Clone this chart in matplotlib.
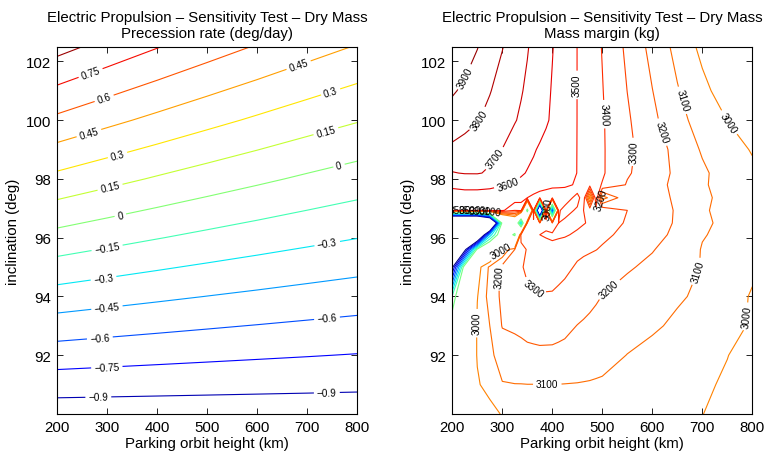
import numpy as np
import matplotlib.pyplot as plt
from matplotlib.colors import Normalize

plt.rcParams['font.family'] = ['Liberation Sans', 'DejaVu Sans']
plt.rcParams['axes.unicode_minus'] = True

TITLE = 'Electric Propulsion \u2013 Sensitivity Test \u2013 Dry Mass'

# ---- precession rate (deg/day) on a height x inclination grid ----
heights_prec = [200, 300, 400, 500, 600, 700, 800]
incl_prec = [90, 92, 94, 96, 98, 100, 102.5]
prec_rate = [
    [-0.986, -0.986, -0.986, -0.986, -0.986, -0.986, -0.986],
    [-0.674, -0.690, -0.705, -0.719, -0.732, -0.744, -0.756],
    [-0.362, -0.394, -0.424, -0.452, -0.478, -0.503, -0.526],
    [-0.051, -0.099, -0.144, -0.186, -0.225, -0.262, -0.297],
    [0.259, 0.195, 0.135, 0.079, 0.027, -0.023, -0.069],
    [0.567, 0.487, 0.413, 0.343, 0.278, 0.216, 0.159],
    [0.950, 0.850, 0.757, 0.670, 0.589, 0.512, 0.441],
]
prec_levels = [-0.9, -0.75, -0.6, -0.45, -0.3, -0.15, 0, 0.15, 0.3, 0.45, 0.6, 0.75, 0.9]
prec_label_pos = [(265, 101.68), (292, 100.83), (262, 99.63), (682, 101.9),
                  (319, 98.9), (745, 101.05), (305, 97.75), (735, 99.75),
                  (325, 96.85), (762, 98.55), (299, 95.71), (292, 94.68),
                  (739, 95.88), (299, 93.66), (285, 92.61), (739, 93.32),
                  (299, 91.61), (282, 90.59), (739, 90.76)]

# ---- mass margin (kg) ----
heights_mass = [200, 225, 250, 275, 300, 325, 337.5, 350, 362.5, 375, 387.5, 400,
                412.5, 425, 450, 462.5, 475, 487.5, 500, 550, 600, 650, 700, 750, 800]
incl_mass = [90, 91, 92, 93, 94, 95, 95.6, 96.1, 96.5, 96.93, 97.36, 97.8, 98.2,
             99, 100, 101, 102.5]
mass_margin = [
    [2600, 2720, 2850, 2950, 3010, 3030, 3038, 3045, 3052, 3060, 3065, 3070, 3074, 3078, 3080, 3079, 3078, 3076, 3075, 3065, 3050, 3030, 3002, 2960, 2920],
    [2650, 2800, 2985, 3050, 3095, 3098, 3098, 3099, 3099, 3099, 3099, 3099, 3099, 3098, 3096, 3094, 3092, 3089, 3086, 3075, 3058, 3038, 3014, 2988, 2950],
    [2400, 2800, 3010, 3080, 3140, 3160, 3170, 3180, 3180, 3180, 3179, 3178, 3175, 3172, 3160, 3155, 3150, 3142, 3135, 3098, 3075, 3055, 3030, 3002, 2965],
    [2050, 2600, 3020, 3100, 3205, 3215, 3220, 3225, 3232, 3240, 3240, 3240, 3231, 3222, 3198, 3189, 3180, 3172, 3165, 3140, 3112, 3085, 3060, 3030, 2990],
    [1550, 2500, 2995, 3140, 3220, 3270, 3280, 3290, 3292, 3295, 3292, 3290, 3280, 3270, 3250, 3238, 3225, 3211, 3198, 3165, 3140, 3110, 3085, 3050, 2990],
    [-400, 2100, 2950, 3120, 3230, 3280, 3295, 3310, 3325, 3340, 3342, 3345, 3332, 3320, 3290, 3278, 3265, 3255, 3245, 3210, 3180, 3140, 3095, 3060, 3020],
    [-2000, -500, 1900, 2700, 2995, 3200, 3255, 3310, 3335, 3360, 3365, 3370, 3360, 3350, 3320, 3315, 3310, 3302, 3290, 3245, 3205, 3160, 3095, 3065, 3030],
    [-5000, -5000, -2000, 1000, 2300, 1700, 3350, 3370, 3390, 3400, 3410, 3420, 3415, 3410, 3385, 3370, 3355, 3338, 3320, 3275, 3230, 3180, 3105, 3080, 3045],
    [-5000, -5000, -5000, -3000, 2000, 2600, 1000, 3300, 3380, 3300, 3380, 3300, 3400, 3430, 3420, 3405, 3390, 3370, 3350, 3290, 3240, 3190, 3115, 3080, 3050],
    [3520, 3522, 3525, 3530, 3520, 3400, 3450, 1600, 3450, -3000, 3450, 200, 3420, 3350, 3420, 3400, 3380, 3370, 3380, 3300, 3250, 3190, 3110, 3075, 3045],
    [3565, 3572, 3578, 3582, 3580, 3560, 3530, 3500, 3480, 3460, 3450, 3440, 3460, 3480, 3350, 3480, 2950, 3480, 3050, 3290, 3250, 3180, 3120, 3070, 3040],
    [3614, 3618, 3614, 3608, 3602, 3592, 3578, 3565, 3552, 3540, 3530, 3520, 3512, 3505, 3497, 3472, 3448, 3422, 3395, 3292, 3245, 3170, 3112, 3062, 3030],
    [3695, 3705, 3706, 3690, 3660, 3625, 3610, 3595, 3582, 3570, 3558, 3545, 3534, 3522, 3499, 3478, 3456, 3434, 3411, 3310, 3250, 3180, 3116, 3058, 3014],
    [3783, 3765, 3745, 3722, 3699, 3662, 3644, 3625, 3608, 3590, 3575, 3560, 3545, 3530, 3499, 3477, 3455, 3432, 3410, 3320, 3250, 3170, 3090, 3030, 2995],
    [3850, 3830, 3806, 3772, 3736, 3705, 3688, 3672, 3652, 3632, 3610, 3588, 3566, 3545, 3499, 3477, 3455, 3432, 3409, 3313, 3223, 3131, 3060, 2999, 2960],
    [3912, 3880, 3845, 3805, 3763, 3725, 3706, 3686, 3664, 3641, 3618, 3594, 3571, 3548, 3499, 3476, 3452, 3428, 3404, 3299, 3202, 3107, 3026, 2952, 2892],
    [4000, 3952, 3904, 3854, 3804, 3755, 3730, 3706, 3680, 3655, 3630, 3604, 3578, 3552, 3499, 3474, 3448, 3422, 3396, 3280, 3170, 3071, 2975, 2880, 2790],
]
mass_levels_low = [-300, 0, 300, 600, 900, 1200, 1500, 1800]
mass_levels = [3000, 3100, 3200, 3300, 3400, 3500, 3600, 3700, 3800, 3900]
mass_label_pos = [(227, 101.45), (260, 99.97), (287, 98.67), (313, 97.7),
                  (450, 101.2), (500, 100.2), (573, 98.9), (627, 99.63),
                  (667, 100.71), (757, 99.97), (293, 95.65), (290, 94.68),
                  (360, 94.23), (523, 94.06), (673, 94.97), (250, 93.09),
                  (390, 90.87), (783, 93.32)]
# labels piled up where the contours bunch together
mass_crowd_pos = [(216, 96.95), (236, 96.93), (256, 96.92), (276, 96.9),
                  (396, 96.95), (497, 97.3)]


def fmt_label(v):
    s = '%g' % round(v, 2)
    return s.replace('-', '\u2212')


def style_axes(ax):
    ax.set_xlim(200, 800)
    ax.set_ylim(90, 102.5)
    ax.set_xticks([200, 300, 400, 500, 600, 700, 800])
    ax.set_yticks([92, 94, 96, 98, 100, 102])
    ax.tick_params(direction='in', top=True, right=True, length=4.5, width=0.6,
                   labelsize=10.8, pad=4.5)
    for sp in ax.spines.values():
        sp.set_linewidth(0.8)
    ax.set_xlabel('Parking orbit height (km)', fontsize=10.8, labelpad=1)
    ax.set_ylabel('inclination (deg)', fontsize=10.8, labelpad=4)


fig = plt.figure(figsize=(7.64, 4.56), dpi=100)
ax1 = fig.add_axes([0.075, 0.0899, 0.3927, 0.8055])
ax2 = fig.add_axes([0.592, 0.0899, 0.3927, 0.8055])

# left: precession rate
cs1 = ax1.contour(heights_prec, incl_prec, np.array(prec_rate), levels=prec_levels,
                  cmap='jet', norm=Normalize(-0.986, 0.95), linewidths=0.8)
ax1.clabel(cs1, manual=prec_label_pos, inline=True, fontsize=7.2, colors='k',
           fmt=fmt_label, inline_spacing=3)
style_axes(ax1)
ax1.set_title(TITLE + '\nPrecession rate (deg/day)', fontsize=10.8, pad=7)

# right: mass margin, steep low-value contours unlabelled
mass_norm = Normalize(-350, 4000)
mass_grid = np.array(mass_margin)
ax2.contour(heights_mass, incl_mass, mass_grid, levels=mass_levels_low,
            cmap='jet', norm=mass_norm, linewidths=0.8)
cs2 = ax2.contour(heights_mass, incl_mass, mass_grid, levels=mass_levels,
                  cmap='jet', norm=mass_norm, linewidths=0.8)
ax2.clabel(cs2, manual=mass_label_pos, inline=True,
           fontsize=7.2, colors='k', fmt=fmt_label, inline_spacing=3)
ax2.clabel(cs2, manual=mass_crowd_pos, inline=False,
           fontsize=7.2, colors='k', fmt=fmt_label)
style_axes(ax2)
ax2.set_title(TITLE + '\nMass margin (kg)', fontsize=10.8, pad=7)

fig.savefig('out.png', dpi=100)
